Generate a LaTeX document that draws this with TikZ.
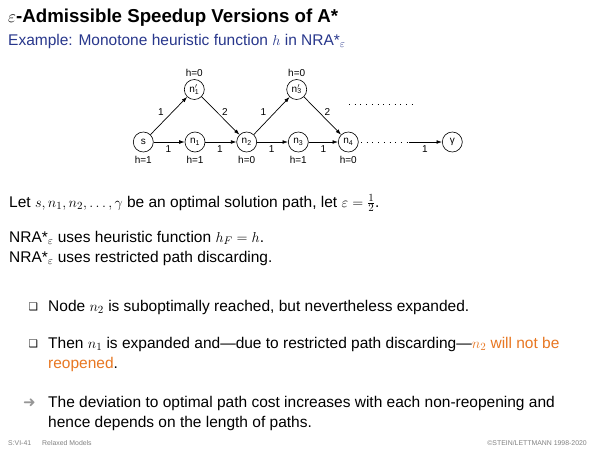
\documentclass[tikz,border=0pt]{standalone}
\usepackage{fontspec}
\setmainfont{Liberation Sans}
\newfontfamily\symfont{DejaVu Sans}
\usetikzlibrary{arrows.meta}
\definecolor{subblue}{RGB}{40,55,140}
\definecolor{hlorange}{RGB}{232,119,34}
\definecolor{footgray}{RGB}{130,130,130}
\definecolor{arrgray}{RGB}{150,150,150}
\tikzset{
  gnode/.style={draw, circle, line width=0.6pt, minimum size=20pt, inner sep=0pt, font=\fontsize{10}{12}\selectfont},
  glabel/.style={font=\fontsize{10}{12}\selectfont, inner sep=0pt},
  garrow/.style={-{Latex[length=5.5pt,width=3.8pt]}, line width=0.7pt},
  dotline/.style={line width=0.8pt, dash pattern=on 0.8pt off 4.9pt},
  body/.style={anchor=base west, inner sep=0pt, font=\fontsize{15.5}{19}\selectfont},
  bul/.style={anchor=base west, inner sep=0pt, font=\symfont\fontsize{10.5}{12}\selectfont},
  foot/.style={inner sep=0pt, text=footgray, font=\fontsize{6.9}{8}\selectfont}
}
\begin{document}
\begin{tikzpicture}[x=1pt,y=-1pt]
\useasboundingbox[fill=white] (0,0) rectangle (600,450);

% title
\node[anchor=base west, inner sep=0pt, font=\fontsize{18.7}{22}\selectfont\bfseries] (title) at (8,22) {$\varepsilon$-Admissible Speedup Versions of A*};
\node[anchor=base west, inner sep=0pt, text=subblue, font=\fontsize{15.5}{19}\selectfont] (subtitle) at (8,45) {Example: Monotone heuristic function $h$ in NRA*$_\varepsilon$};

% graph
\node[gnode] (s) at (143.3,142) {s};
\node[gnode] (n1) at (195,142) {n\textsubscript{1}};
\node[gnode] (n2) at (246.7,142) {n\textsubscript{2}};
\node[gnode] (n3) at (298.3,142) {n\textsubscript{3}};
\node[gnode] (n4) at (348.3,142) {n\textsubscript{4}};
\node[gnode] (g) at (452.3,142) {γ};
\node[gnode] (n1p) at (194.3,89.5) {n\rlap{$'$}\textsubscript{1}};
\node[gnode] (n3p) at (296.7,89.5) {n\rlap{$'$}\textsubscript{3}};

\node[glabel] (hs) at (143.3,159.5) {h=1};
\node[glabel] (hn1) at (195,159.5) {h=1};
\node[glabel] (hn2) at (246.7,159.5) {h=0};
\node[glabel] (hn3) at (298.3,159.5) {h=1};
\node[glabel] (hn4) at (348.3,159.5) {h=0};
\node[glabel] (hn1p) at (194.3,73) {h=0};
\node[glabel] (hn3p) at (296.7,73) {h=0};

\draw[garrow] (s) -- (n1);
\draw[garrow] (n1) -- (n2);
\draw[garrow] (n2) -- (n3);
\draw[garrow] (n3) -- (n4);
\draw[garrow] (s) -- (n1p);
\draw[garrow] (n1p) -- (n2);
\draw[garrow] (n2) -- (n3p);
\draw[garrow] (n3p) -- (n4);
\coordinate (d1) at (361,142);
\coordinate (d2) at (409,142);
\draw[dotline] (d1) -- (d2);
\draw[garrow] (d2) -- (g);
\coordinate (u1) at (349,104);
\coordinate (u2) at (413,104);
\draw[dotline] (u1) -- (u2);

\node[glabel] (e1) at (161,111.7) {1};
\node[glabel] (e2) at (225,111.7) {2};
\node[glabel] (e3) at (263.3,111.7) {1};
\node[glabel] (e4) at (327.3,111.7) {2};
\node[glabel] (e5) at (168.3,149.3) {1};
\node[glabel] (e6) at (220,149.3) {1};
\node[glabel] (e7) at (271.7,149.3) {1};
\node[glabel] (e8) at (323.3,149.3) {1};
\node[glabel] (e9) at (425,149.3) {1};

% text
\node[body] (t1) at (9,207) {Let $s, n_1, n_2, \ldots, \gamma$ be an optimal solution path, let $\varepsilon = \frac{1}{2}$.};
\node[body] (t2) at (9,242) {NRA*$_\varepsilon$ uses heuristic function $h_F = h$.};
\node[body] (t3) at (9,262) {NRA*$_\varepsilon$ uses restricted path discarding.};

\node[bul] (b1) at (28.5,310) {❑};
\node[body] (b1t) at (48,311) {Node $n_2$ is suboptimally reached, but nevertheless expanded.};
\node[bul] (b2) at (28.5,347) {❑};
\node[body] (b2t) at (48,348) {Then $n_1$ is expanded and---due to restricted path discarding---\textcolor{hlorange}{$n_2$ will not be}};
\node[body] (b2u) at (48,368) {\textcolor{hlorange}{reopened}.};
\node[anchor=base west, inner sep=0pt, text=arrgray, font=\symfont\fontsize{15}{16}\selectfont] (ar) at (23,407) {➜};
\node[body] (a1) at (48,407) {The deviation to optimal path cost increases with each non-reopening and};
\node[body] (a2) at (48,427) {hence depends on the length of paths.};

% footer
\node[foot, anchor=base west] (f1) at (8,445) {S:VI-41};
\node[foot, anchor=base west] (f2) at (42,445) {Relaxed Models};
\node[foot, anchor=base east] (f3) at (587,445) {©STEIN/LETTMANN 1998-2020};
\end{tikzpicture}
\end{document}
